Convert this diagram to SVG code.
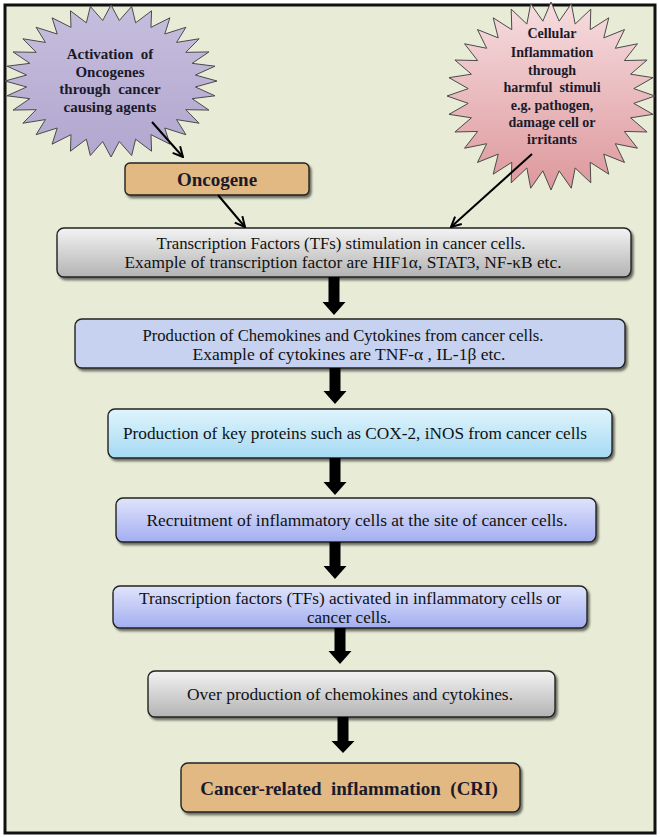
<svg xmlns="http://www.w3.org/2000/svg" xmlns:xlink="http://www.w3.org/1999/xlink" width="660" height="837" viewBox="0 0 660 837">
<style>
.t{font-family:"Liberation Serif","Times New Roman",serif;font-size:17px;fill:#111;text-anchor:middle}
.b{font-family:"Liberation Serif","Times New Roman",serif;font-weight:bold;fill:#1a1a2a;text-anchor:middle}
.box{stroke:#222;stroke-width:1.4;filter:url(#sh)}
.thin{fill:none;stroke:#000;stroke-width:2;marker-end:url(#open)}
.fat{fill:#000}
</style>
<defs>
<filter id="sh" x="-5%" y="-20%" width="110%" height="150%">
<feDropShadow dx="2" dy="2.5" stdDeviation="1.2" flood-color="#000" flood-opacity="0.55"/>
</filter>
<linearGradient id="gGray" x1="0" y1="0" x2="0" y2="1"><stop offset="0" stop-color="#f3f3f3"/><stop offset="1" stop-color="#b3b3b3"/></linearGradient>
<linearGradient id="gCyan" x1="0" y1="0" x2="0" y2="1"><stop offset="0" stop-color="#e0f4fd"/><stop offset="1" stop-color="#a5daf3"/></linearGradient>
<linearGradient id="gBlue" x1="0" y1="0" x2="0" y2="1"><stop offset="0" stop-color="#e0e4fb"/><stop offset="1" stop-color="#a3aef0"/></linearGradient>
<linearGradient id="gPink" x1="0" y1="0" x2="0" y2="1"><stop offset="0" stop-color="#f6dde0"/><stop offset="1" stop-color="#dd989c"/></linearGradient>
<linearGradient id="gLav" x1="0" y1="0" x2="0" y2="1"><stop offset="0" stop-color="#c6bede"/><stop offset="1" stop-color="#b2a7cf"/></linearGradient>
<path id="star" vector-effect="non-scaling-stroke" d="M100,0 L79.61,7.84 L98.08,19.51 L76.56,23.22 L92.39,38.27 L70.55,37.71 L83.15,55.56 L61.84,50.75 L70.71,70.71 L50.75,61.84 L55.56,83.15 L37.71,70.55 L38.27,92.39 L23.22,76.56 L19.51,98.08 L7.84,79.61 L0,100 L-7.84,79.61 L-19.51,98.08 L-23.22,76.56 L-38.27,92.39 L-37.71,70.55 L-55.56,83.15 L-50.75,61.84 L-70.71,70.71 L-61.84,50.75 L-83.15,55.56 L-70.55,37.71 L-92.39,38.27 L-76.56,23.22 L-98.08,19.51 L-79.61,7.84 L-100,0 L-79.61,-7.84 L-98.08,-19.51 L-76.56,-23.22 L-92.39,-38.27 L-70.55,-37.71 L-83.15,-55.56 L-61.84,-50.75 L-70.71,-70.71 L-50.75,-61.84 L-55.56,-83.15 L-37.71,-70.55 L-38.27,-92.39 L-23.22,-76.56 L-19.51,-98.08 L-7.84,-79.61 L0,-100 L7.84,-79.61 L19.51,-98.08 L23.22,-76.56 L38.27,-92.39 L37.71,-70.55 L55.56,-83.15 L50.75,-61.84 L70.71,-70.71 L61.84,-50.75 L83.15,-55.56 L70.55,-37.71 L92.39,-38.27 L76.56,-23.22 L98.08,-19.51 L79.61,-7.84 Z"/>
<marker id="open" viewBox="0 0 12 12" refX="11" refY="6" markerWidth="12" markerHeight="12" markerUnits="userSpaceOnUse" orient="auto">
<path d="M1,1 L11,6 L1,11" fill="none" stroke="#000" stroke-width="2"/>
</marker>
</defs>

<rect x="0" y="0" width="660" height="837" fill="#ffffff"/>
<rect id="frame" x="5" y="5" width="650" height="828" fill="#e8ecd6" stroke="#111" stroke-width="3"/>

<g id="starLeft">
<use xlink:href="#star" href="#star" transform="translate(111,81) scale(1.06,0.76)" fill="url(#gLav)" stroke="#4a4a4a" stroke-width="1"/>
<text class="b" font-size="15" x="110" y="59" xml:space="preserve">Activation  of</text>
<text class="b" font-size="15" x="110" y="77">Oncogenes</text>
<text class="b" font-size="15" x="110" y="94" xml:space="preserve">through  cancer</text>
<text class="b" font-size="15" x="110" y="112">causing agents</text>
</g>

<g id="starRight">
<use xlink:href="#star" href="#star" transform="translate(551,96) scale(1.04,0.94)" fill="url(#gPink)" stroke="#4a4a4a" stroke-width="1"/>
<text class="b" font-size="14" x="552" y="38">Cellular</text>
<text class="b" font-size="14" x="552" y="57">Inflammation</text>
<text class="b" font-size="14" x="552" y="75">through</text>
<text class="b" font-size="14" x="552" y="92" xml:space="preserve">harmful  stimuli</text>
<text class="b" font-size="14" x="552" y="110">e.g. pathogen,</text>
<text class="b" font-size="14" x="552" y="127">damage cell or</text>
<text class="b" font-size="14" x="552" y="144">irritants</text>
</g>

<g id="oncogene">
<rect class="box" x="125" y="163" width="184" height="32" rx="5" fill="#e2b883"/>
<text class="b" font-size="19" x="217" y="186">Oncogene</text>
</g>

<g id="tfStim">
<rect class="box" x="57" y="228" width="574" height="49" rx="7" fill="url(#gGray)"/>
<text class="t" x="341" y="249" textLength="369" lengthAdjust="spacingAndGlyphs">Transcription Factors (TFs) stimulation in cancer cells.</text>
<text class="t" x="343" y="268" textLength="437" lengthAdjust="spacingAndGlyphs">Example of transcription factor are HIF1α, STAT3, NF-κB etc.</text>
</g>

<g id="chemo">
<rect class="box" x="75" y="319" width="550" height="49" rx="7" fill="#c6d2ef"/>
<text class="t" x="343" y="341" textLength="401" lengthAdjust="spacingAndGlyphs">Production of Chemokines and Cytokines from cancer cells.</text>
<text class="t" x="349" y="360" textLength="313" lengthAdjust="spacingAndGlyphs">Example of cytokines are TNF-α , IL-1β etc.</text>
</g>

<g id="cox">
<rect class="box" x="108" y="409" width="504" height="49" rx="7" fill="url(#gCyan)"/>
<text class="t" x="355" y="439" textLength="464" lengthAdjust="spacingAndGlyphs">Production of key proteins such as COX-2, iNOS from cancer cells</text>
</g>

<g id="recruit">
<rect class="box" x="116" y="498" width="480" height="44" rx="7" fill="url(#gBlue)"/>
<text class="t" x="357" y="526" textLength="421" lengthAdjust="spacingAndGlyphs">Recruitment of inflammatory cells at the site of cancer cells.</text>
</g>

<g id="tfAct">
<rect class="box" x="113" y="586" width="474" height="42" rx="7" fill="url(#gBlue)"/>
<text class="t" x="350" y="604" textLength="422" lengthAdjust="spacingAndGlyphs">Transcription factors (TFs) activated in inflammatory cells or</text>
<text class="t" x="349" y="623">cancer cells.</text>
</g>

<g id="over">
<rect class="box" x="148" y="671" width="407" height="46" rx="7" fill="url(#gGray)"/>
<text class="t" x="350" y="700" textLength="326" lengthAdjust="spacingAndGlyphs">Over production of chemokines and cytokines.</text>
</g>

<g id="cri">
<rect class="box" x="181" y="763" width="339" height="49" rx="7" fill="#e2b883"/>
<text class="b" font-size="19" x="349" y="795" xml:space="preserve">Cancer-related  inflammation  (CRI)</text>
</g>

<g id="connectors">
<line class="thin" x1="152" y1="122" x2="183" y2="157"/>
<line class="thin" x1="218" y1="195" x2="245" y2="227"/>
<line class="thin" x1="532" y1="154" x2="451" y2="227"/>
<polygon class="fat" points="328.5,277 339.5,277 339.5,302 345.5,302 334,315 322.5,302 328.5,302"/>
<polygon class="fat" points="329.5,368 340.5,368 340.5,391 346.5,391 335,404 323.5,391 329.5,391"/>
<polygon class="fat" points="329.5,458 340.5,458 340.5,482 346.5,482 335,495 323.5,482 329.5,482"/>
<polygon class="fat" points="329.5,542 340.5,542 340.5,566 346.5,566 335,579 323.5,566 329.5,566"/>
<polygon class="fat" points="334.5,628 345.5,628 345.5,651 351.5,651 340,664 328.5,651 334.5,651"/>
<polygon class="fat" points="337.5,717 348.5,717 348.5,741 354.5,741 343,753 331.5,741 337.5,741"/>
</g>
</svg>
